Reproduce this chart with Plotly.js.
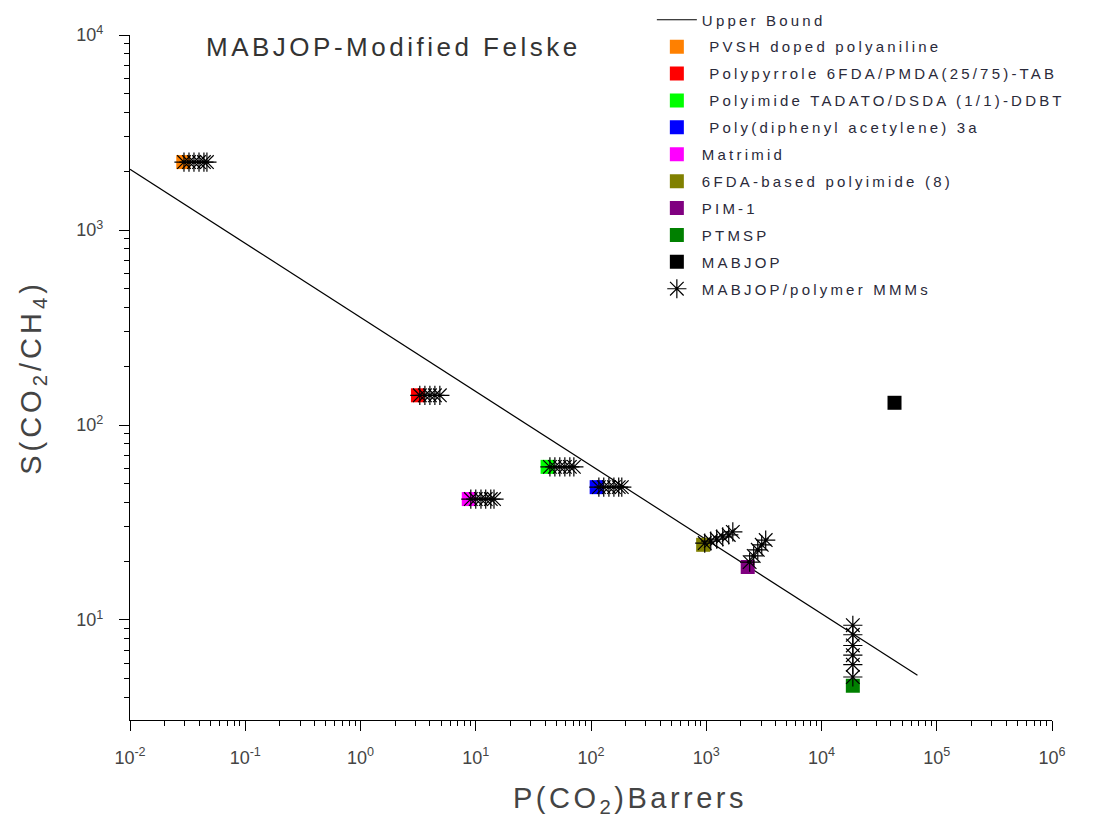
<!DOCTYPE html>
<html>
<head>
<meta charset="utf-8">
<script src="https://cdn.plot.ly/plotly-3.0.1.min.js"></script>
<style>
html,body{margin:0;padding:0;background:#fff}
#chart{width:1094px;height:830px}
.legendtext{letter-spacing:3.2px}
.annotation-text{letter-spacing:3.5px}
.ytitle{letter-spacing:4px}
</style>
</head>
<body>
<div id="chart"></div>
<script>
// Upper bound line endpoints
var boundP = [0.01, 68000];
var boundS = [2050, 5.2];

// Pure polymers (square markers)
var polyNames = [" PVSH doped polyaniline", " Polypyrrole 6FDA/PMDA(25/75)-TAB", " Polyimide TADATO/DSDA (1/1)-DDBT", " Poly(diphenyl acetylene) 3a", "Matrimid", "6FDA-based polyimide (8)", "PIM-1", "PTMSP", "MABJOP"];
var polyColors = ["#ff8000", "#ff0000", "#00ff00", "#0000ff", "#ff00ff", "#808000", "#800080", "#008000", "#000000"];
var polyP = [0.029, 3.15, 42, 112, 8.7, 940, 2290, 18700, 43000];
var polyS = [2230, 142, 61, 48, 41.7, 24.3, 18.7, 4.6, 130];

// MABJOP/polymer MMMs (asterisks)
var mmmP = [
  0.0294, 0.0325, 0.0359, 0.0397, 0.0438, 0.0465,
  3.27, 3.62, 4.0, 4.42, 4.88,
  44, 48.6, 53.6, 59.3, 65.5, 71,
  117, 129, 143, 158, 174, 185,
  9.06, 10.0, 11.1, 12.2, 13.5, 14.4,
  970, 1094, 1233, 1390, 1567, 1700,
  2380, 2580, 2800, 3030, 3280,
  18700, 18700, 18700, 18700, 18700, 18700
];
var mmmS = [
  2230, 2230, 2230, 2230, 2230, 2230,
  142, 142, 142, 142, 142,
  61, 61, 61, 61, 61, 61,
  48, 48, 48, 48, 48, 48,
  41.7, 41.7, 41.7, 41.7, 41.7, 41.7,
  24.8, 25.4, 26.0, 26.7, 27.3, 28.3,
  19.8, 21.3, 22.9, 24.3, 25.7,
  5.1, 5.9, 6.6, 7.4, 8.4, 9.4
];

var xTickVals = [0.01, 0.1, 1, 10, 100, 1000, 10000, 100000, 1000000];
var xTickText = ["10<sup>-2</sup>", "10<sup>-1</sup>", "10<sup>0</sup>", "10<sup>1</sup>", "10<sup>2</sup>", "10<sup>3</sup>", "10<sup>4</sup>", "10<sup>5</sup>", "10<sup>6</sup>"];
var yTickVals = [10, 100, 1000, 10000];
var yTickText = ["10<sup>1</sup>", "10<sup>2</sup>", "10<sup>3</sup>", "10<sup>4</sup>"];

var traces = [];
traces.push({
  x: boundP, y: boundS, mode: "lines", name: "Upper Bound",
  line: {color: "#000", width: 1.2}, legendgroup: "g0"
});
for (var i = 0; i < polyNames.length; i++) {
  traces.push({
    x: [polyP[i]], y: [polyS[i]], mode: "markers", name: polyNames[i],
    marker: {symbol: "square", size: 14, color: polyColors[i], line: {width: 0}},
    legendgroup: "g" + (i + 1)
  });
}
traces.push({
  x: mmmP, y: mmmS, mode: "markers", name: "MABJOP/polymer MMMs",
  marker: {symbol: "asterisk-open", size: 16, color: "#000", line: {color: "#000", width: 1.2}},
  legendgroup: "g10"
});

var font = "Liberation Sans, Arial, sans-serif";
var layout = {
  width: 1094, height: 830,
  margin: {l: 130, r: 42, t: 35, b: 110, autoexpand: false},
  paper_bgcolor: "#fff", plot_bgcolor: "#fff",
  font: {family: font, color: "#333"},
  showlegend: true,
  legend: {
    x: 0.566, y: 1.046, xanchor: "left", yanchor: "top",
    font: {family: font, size: 15, color: "#2a2a3a"},
    bgcolor: "rgba(0,0,0,0)", borderwidth: 0,
    traceorder: "grouped", tracegroupgap: 4.4, itemwidth: 40
  },
  xaxis: {
    type: "log", range: [-2, 6], tickmode: "array",
    tickvals: xTickVals, ticktext: xTickText,
    showline: true, linecolor: "#000", linewidth: 1.2,
    showgrid: false, zeroline: false,
    ticks: "outside", ticklen: 10, tickwidth: 1, tickcolor: "#000",
    ticklabelstandoff: 11,
    tickfont: {family: font, size: 18, color: "#444"},
    minor: {tickmode: "linear", dtick: "D1", ticks: "outside", ticklen: 5, tickcolor: "#000", tickwidth: 1, showgrid: false}
  },
  yaxis: {
    type: "log", range: [Math.log10(3.07), 4], tickmode: "array",
    tickvals: yTickVals, ticktext: yTickText,
    showline: true, linecolor: "#000", linewidth: 1.2,
    showgrid: false, zeroline: false,
    ticks: "outside", ticklen: 10, tickwidth: 1, tickcolor: "#000",
    ticklabelstandoff: 12,
    tickfont: {family: font, size: 18, color: "#444"},
    minor: {tickmode: "linear", dtick: "D1", ticks: "outside", ticklen: 5, tickcolor: "#000", tickwidth: 1, showgrid: false},
    title: {text: "S(CO<sub>2</sub>/CH<sub>4</sub>)", font: {family: font, size: 29, color: "#444"}, standoff: 26}
  },
  annotations: [{
    text: "MABJOP-Modified Felske", xref: "paper", yref: "paper",
    x: 0.286, y: 0.982, xanchor: "center", yanchor: "middle", showarrow: false,
    font: {family: font, size: 26, color: "#333"}
  }, {
    text: "P(CO<sub>2</sub>)Barrers", xref: "paper", yref: "paper",
    x: 0.542, y: -0.117, xanchor: "center", yanchor: "middle", showarrow: false,
    font: {family: font, size: 29, color: "#444"}
  }]
};

Plotly.newPlot("chart", traces, layout, {displayModeBar: false, staticPlot: true});
</script>
</body>
</html>
